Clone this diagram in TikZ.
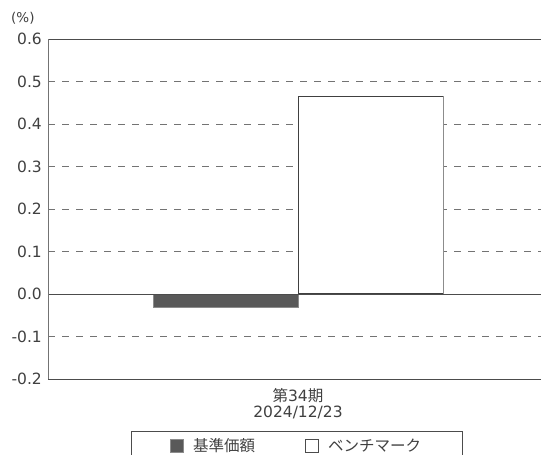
\documentclass[tikz,border=0pt]{standalone}
\usepackage{fontspec}
\setmainfont{DejaVu Sans}
\newfontfamily\jp{Noto Sans CJK JP}
\begin{document}
\begin{tikzpicture}[x=1pt,y=-1pt,
  lbl/.style={font=\fontsize{15.5}{17}\selectfont, text=black!75, inner sep=0pt},
  jlbl/.style={font=\fontsize{15.5}{17}\selectfont\jp, text=black!75, inner sep=0pt},
  ylbl/.style={lbl, anchor=east},
  grid/.style={draw=black!55, line width=0.8pt, dash pattern=on 7pt off 7pt},
  frame/.style={draw=black!70, line width=0.9pt},
  barbox/.style={draw=black!45, line width=0.8pt}]
\useasboundingbox (0,0) rectangle (541,455);
% grid
\foreach \y in {81.5,124,166.5,209,251.5,336.5}
  \draw[grid] (48,\y) -- (541,\y);
% bars
\node[barbox, fill=black!65, minimum width=145pt, minimum height=13pt, anchor=north west, inner sep=0pt] (fund) at (153,294) {};
\node[draw=black!75, line width=0.8pt, fill=white, minimum width=145pt, minimum height=197pt, anchor=south west, inner sep=0pt] (bench) at (298,294) {};
\draw[barbox] (bench.north east) -- (bench.south east);
% axes
\draw[frame] (48,39) -- (541,39);
\draw[frame] (48,379) -- (541,379);
\draw[frame] (48,294) -- (541,294);
\draw[draw=black!55, line width=0.9pt] (48,39) -- (48,379);
% y labels
\node[lbl, font=\fontsize{13.5}{16}\selectfont, anchor=west] (unit) at (11,18) {(\%)};
\foreach \y/\t in {39/0.6,81.5/0.5,124/0.4,166.5/0.3,209/0.2,251.5/0.1,294/0.0,336.5/-0.1,379/-0.2}
  \node[ylbl] at (42,\y) {\t};
% x labels
\node[lbl] (per) at (298,396) {{\jp 第}34{\jp 期}};
\node[lbl] (date) at (298,412) {2024/12/23};
% legend
\draw[draw=black!70, line width=0.9pt] (131,431.5) rectangle (462,456);
\node[draw=black!45, fill=black!65, minimum size=13pt, inner sep=0pt, line width=0.6pt] (lk1) at (176.5,445.5) {};
\node[jlbl, anchor=west] (lt1) at (193,445.5) {基準価額};
\node[draw=black!70, fill=white, minimum size=13pt, inner sep=0pt, line width=0.6pt] (lk2) at (311.5,445.5) {};
\node[jlbl, anchor=west] (lt2) at (328,445.5) {ベンチマーク};
\end{tikzpicture}
\end{document}
